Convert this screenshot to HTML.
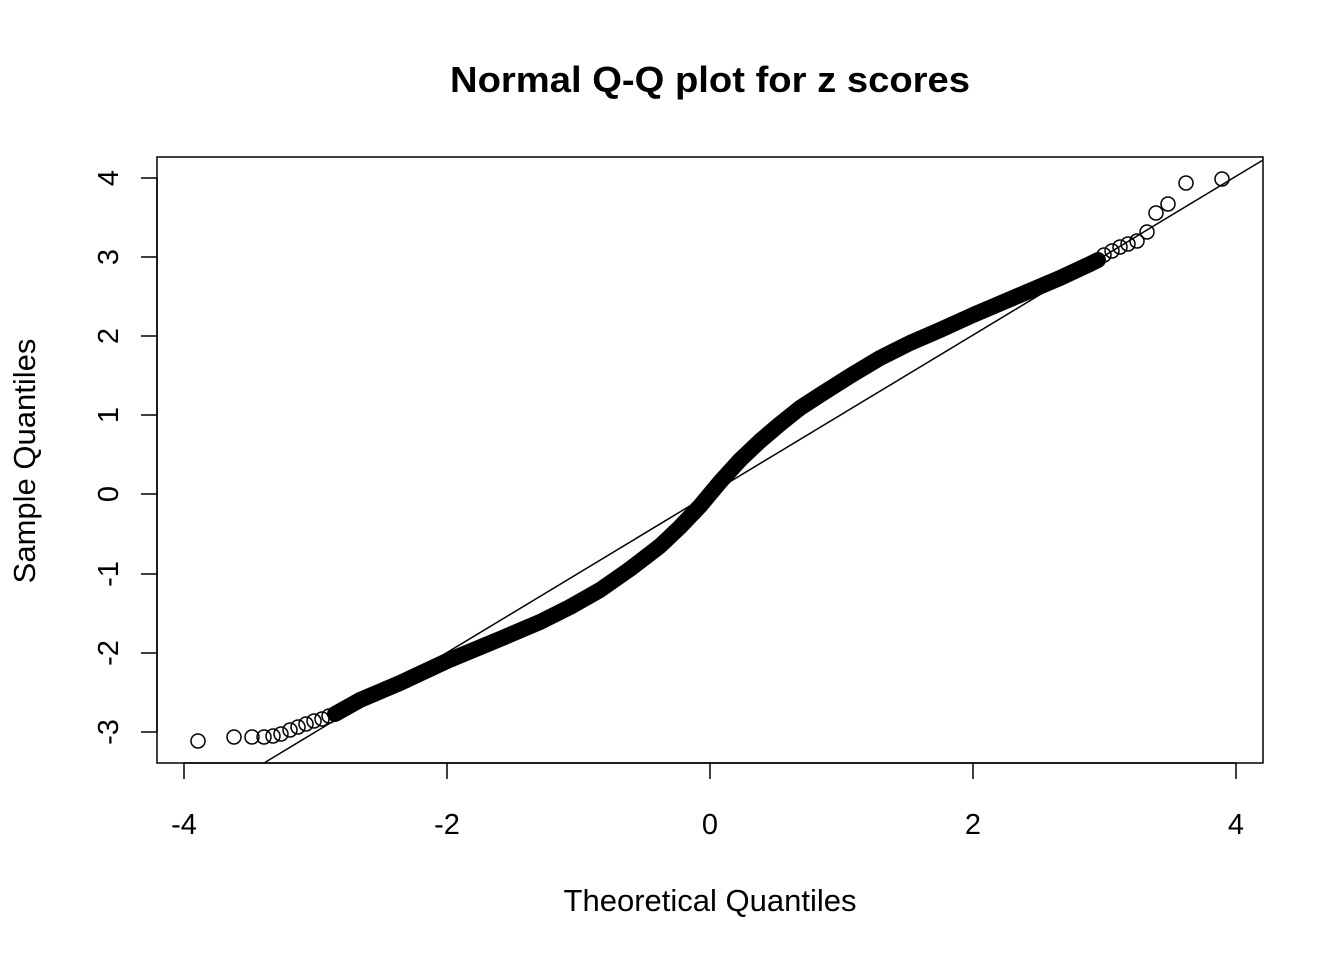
<!DOCTYPE html>
<html><head><meta charset="utf-8"><style>body{margin:0;background:#fff}</style></head><body>
<svg width="1344" height="960" xmlns="http://www.w3.org/2000/svg" font-family="Liberation Sans, Arial, sans-serif">
<rect width="1344" height="960" fill="#fff"/>
<text x="710" y="92" text-anchor="middle" font-size="36" font-weight="bold" textLength="520" lengthAdjust="spacingAndGlyphs">Normal Q-Q plot for z scores</text>
<rect x="157" y="157" width="1106" height="606" fill="none" stroke="#000" stroke-width="1.5"/>
<g stroke="#000" stroke-width="1.5">
<line x1="184" y1="763" x2="1236" y2="763"/>
<line x1="184" y1="763" x2="184" y2="779"/><line x1="447" y1="763" x2="447" y2="779"/><line x1="710" y1="763" x2="710" y2="779"/><line x1="973" y1="763" x2="973" y2="779"/><line x1="1236" y1="763" x2="1236" y2="779"/>
<line x1="157" y1="178" x2="157" y2="732"/>
<line x1="141" y1="178" x2="157" y2="178"/><line x1="141" y1="257" x2="157" y2="257"/><line x1="141" y1="336" x2="157" y2="336"/><line x1="141" y1="415" x2="157" y2="415"/><line x1="141" y1="494" x2="157" y2="494"/><line x1="141" y1="574" x2="157" y2="574"/><line x1="141" y1="653" x2="157" y2="653"/><line x1="141" y1="732" x2="157" y2="732"/>
</g>
<g font-size="29" text-anchor="middle">
<text x="184" y="834">-4</text><text x="447" y="834">-2</text><text x="710" y="834">0</text><text x="973" y="834">2</text><text x="1236" y="834">4</text>
<text x="710" y="911" font-size="31">Theoretical Quantiles</text>
</g>
<g font-size="29" text-anchor="middle">
<text transform="translate(118,178) rotate(-90)">4</text>
<text transform="translate(118,257) rotate(-90)">3</text>
<text transform="translate(118,336) rotate(-90)">2</text>
<text transform="translate(118,415) rotate(-90)">1</text>
<text transform="translate(118,494) rotate(-90)">0</text>
<text transform="translate(118,574) rotate(-90)">-1</text>
<text transform="translate(118,653) rotate(-90)">-2</text>
<text transform="translate(118,732) rotate(-90)">-3</text>
<text transform="translate(35,461) rotate(-90)" font-size="31">Sample Quantiles</text>
</g>
<line x1="264" y1="763" x2="1263" y2="160" stroke="#000" stroke-width="1.5"/>
<polyline fill="none" stroke="#000" stroke-width="16" stroke-linecap="round" stroke-linejoin="round"
points="335,714 360,700 400,683 447,661 500,639 540,622 570,607 600,590 630,569 660,546 680,527 700,506 720,482 740,460 760,441 780,424 800,408 820,395 850,376 880,358 910,343 940,330 973,315 1020,295 1060,278 1090,264 1098,260"/>
<g fill="none" stroke="#000" stroke-width="1.5">
<circle cx="198" cy="741" r="7"/><circle cx="234" cy="737" r="7"/><circle cx="252" cy="737" r="7"/><circle cx="264" cy="737" r="7"/><circle cx="273" cy="736" r="7"/><circle cx="281" cy="734" r="7"/><circle cx="290" cy="730" r="7"/><circle cx="298" cy="727" r="7"/><circle cx="306" cy="724" r="7"/><circle cx="314" cy="721" r="7"/><circle cx="322" cy="719" r="7"/><circle cx="329" cy="716" r="7"/>
<circle cx="1104" cy="255" r="7"/><circle cx="1112" cy="251" r="7"/><circle cx="1120" cy="247" r="7"/><circle cx="1128" cy="244" r="7"/><circle cx="1137" cy="241" r="7"/><circle cx="1147" cy="232" r="7"/><circle cx="1156" cy="213" r="7"/><circle cx="1168" cy="204" r="7"/><circle cx="1186" cy="183" r="7"/><circle cx="1222" cy="179" r="7"/>
</g>
</svg>
</body></html>
